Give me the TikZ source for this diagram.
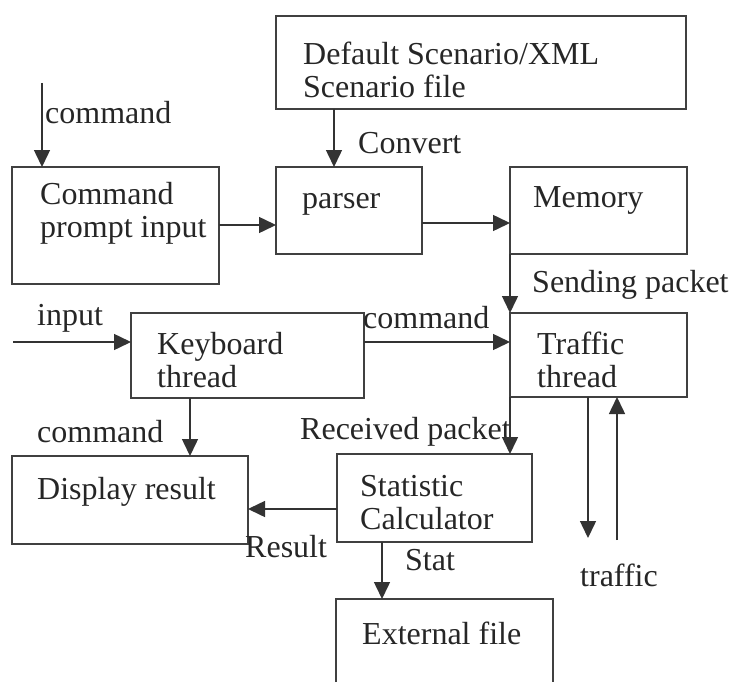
\documentclass[tikz,border=0pt]{standalone}
\usepackage{fontspec}
\setmainfont{Liberation Serif}
\usetikzlibrary{arrows.meta,calc}
\begin{document}
\begin{tikzpicture}[x=1pt,y=-1pt,
  box/.style 2 args={draw=black!75, line width=1.3pt, inner sep=0pt, outer sep=0pt,
    anchor=north west, minimum width=#1, minimum height=#2},
  openbox/.style 2 args={inner sep=0pt, outer sep=0pt,
    anchor=north west, minimum width=#1, minimum height=#2},
  txt/.style={font=\fontsize{32}{33}\selectfont, inner sep=0pt, anchor=west,
    align=left, text=black!85},
  arr/.style={draw=black!80, line width=1.5pt, -{Triangle[length=17pt,width=16pt]}}]
\useasboundingbox (0,0) rectangle (735,682);

% boxes
\node[box={410}{93}]  (def)    at (276,16)  {};
\node[box={207}{117}] (cmd)    at (12,167)  {};
\node[box={146}{87}]  (parser) at (276,167) {};
\node[box={177}{87}]  (mem)    at (510,167) {};
\node[box={233}{85}]  (kbd)    at (131,313) {};
\node[box={177}{84}]  (trf)    at (510,313) {};
\node[box={236}{88}]  (disp)   at (12,456)  {};
\node[box={195}{88}]  (stat)   at (337,454) {};
\node[openbox={217}{83}] (ext) at (336,599) {};
\draw[draw=black!75, line width=1.3pt]
  (ext.south west) -- (ext.north west) -- (ext.north east) -- (ext.south east);

% box texts
\node[txt] (deft)    at (303,70)  {Default Scenario/XML\\Scenario file};
\node[txt] (cmdt)    at (40,213)  {Command\\prompt input};
\node[txt] (parsert) at (302,204) {parser};
\node[txt] (memt)    at (533,200) {Memory};
\node[txt] (kbdt)    at (157,360) {Keyboard\\thread};
\node[txt] (trft)    at (537,360) {Traffic\\thread};
\node[txt] (dispt)   at (37,492)  {Display result};
\node[txt] (statt)   at (360,503) {Statistic\\Calculator};
\node[txt] (extt)    at (362,633) {External file};

% connector labels
\node[txt] (lcmd)   at (45,113)  {command};
\node[txt] (lconv)  at (358,143) {Convert};
\node[txt] (lsend)  at (532,285) {Sending packet};
\node[txt] (linput) at (37,318)  {input};
\node[txt] (lcmd2)  at (363,318) {command};
\node[txt] (lcmd3)  at (37,432)  {command};
\node[txt] (lrecv)  at (300,432) {Received packet};
\node[txt] (lres)   at (245,547) {Result};
\node[txt] (lstat)  at (405,560) {Stat};
\node[txt] (ltrf)   at (580,575) {traffic};

% connectors
\coordinate (cin) at (42,83);
\draw[arr] (cin) -- (cin |- cmd.north);
\coordinate (cvx) at (334,0);
\draw[arr] (def.south -| cvx) -- (parser.north -| cvx);
\coordinate (cpy) at (0,225);
\draw[arr] (cmd.east |- cpy) -- (parser.west |- cpy);
\coordinate (pmy) at (0,223);
\draw[arr] (parser.east |- pmy) -- (mem.west |- pmy);
\draw[arr] (mem.south west) -- (trf.north west);
\coordinate (inp) at (13,342);
\draw[arr] (inp) -- (inp -| kbd.west);
\draw[arr] (kbd.east |- inp) -- (trf.west |- inp);
\coordinate (kdx) at (190,0);
\draw[arr] (kbd.south -| kdx) -- (disp.north -| kdx);
\draw[arr] (trf.south west) -- (stat.north -| trf.south west);
\coordinate (sdy) at (0,509);
\draw[arr] (stat.west |- sdy) -- (disp.east |- sdy);
\coordinate (sex) at (382,0);
\draw[arr] (stat.south -| sex) -- (ext.north -| sex);
\coordinate (tdn) at (588,538);
\draw[arr] (trf.south -| tdn) -- (tdn);
\coordinate (tup) at (617,540);
\draw[arr] (tup) -- (trf.south -| tup);
\end{tikzpicture}
\end{document}
